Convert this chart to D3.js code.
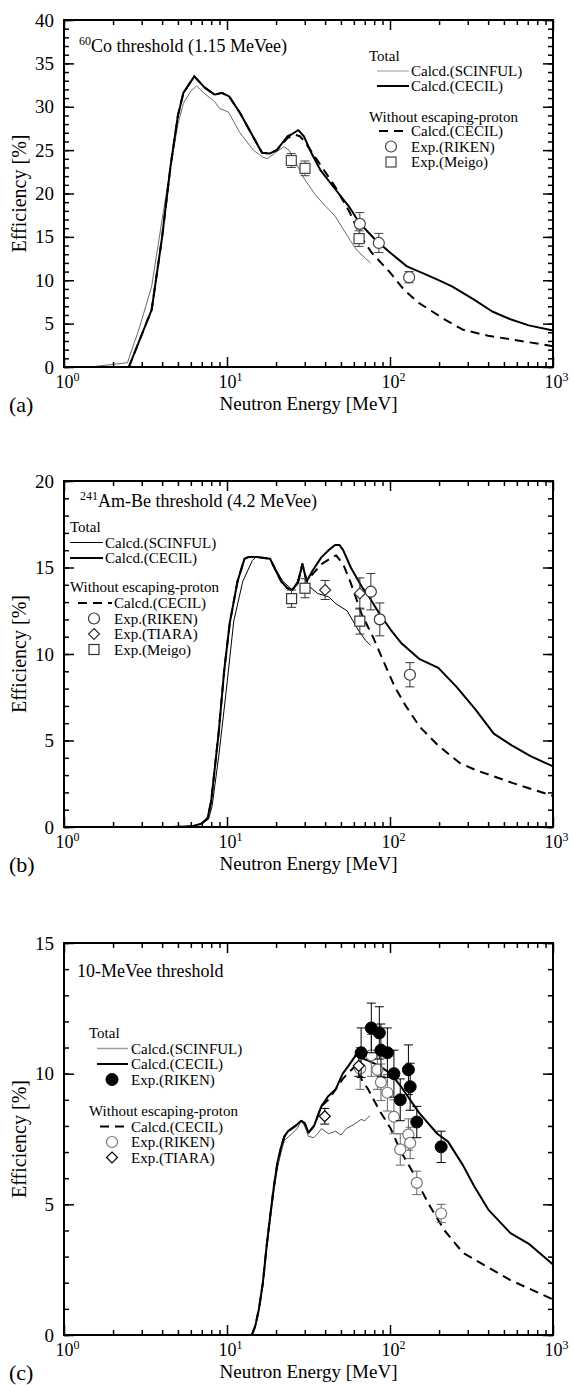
<!DOCTYPE html>
<html>
<head>
<meta charset="utf-8">
<script src="https://cdn.jsdelivr.net/npm/d3@7"></script>
<style>
  body { margin: 0; background: #fff; }
  svg { display: block; }
</style>
</head>
<body>
<div id="container"></div>
<script>
// ---- data: [energy MeV, efficiency %] ----
var scinfulA = [[1.5,0],[1.6,0.1],[2.0,0.3],[2.45,0.5],[2.9,4.5],[3.45,9.3],[4.0,17],[4.5,23],[5.0,28],[5.4,30.4],[6.0,31.8],[6.5,32.4],[7.3,31.5],[8.4,30.6],[9.0,29.8],[10.2,29.4],[12,27],[14.5,25],[16.5,24.2],[17.7,24.0],[19.5,24.6],[22.3,25.4],[24,25],[26,23.8],[30,21.6],[35,19.8],[40,18.6],[46,17.4],[52,15.8],[57,14.6],[63,13.4],[70,12.6],[76,12.0]];
var cecilA = [[2.5,0],[3.45,6.6],[4.0,15],[4.5,23.1],[5.0,29],[5.4,31.6],[6.3,33.5],[7.3,32.2],[8.4,31.4],[9.3,31.6],[10.3,31.2],[12,29.3],[14.8,26.2],[16.4,24.7],[18.2,24.6],[20.2,25],[23.5,26.6],[24.8,26.8],[27.4,27.3],[29.6,26.6],[32.9,24.7],[37.4,22.7],[48.4,20],[56,18.5],[65,16.6],[81,14.7],[100,13.2],[127,11.6],[160,10.8],[194,10.1],[240,9.3],[326,7.8],[424,6.4],[548,5.5],[710,4.8],[1000,4.2]];
var cecilNoEscA = [[2.5,0],[3.45,6.6],[4.0,15],[4.5,23.1],[5.0,29],[5.4,31.6],[6.3,33.5],[7.3,32.2],[8.4,31.4],[9.3,31.6],[10.3,31.2],[12,29.3],[14.8,26.2],[16.4,24.7],[18.2,24.6],[20.2,25],[23.5,26.4],[26,26.8],[28,26.6],[30.4,25.8],[35.6,23.9],[46,20.8],[56.7,17.8],[65.9,15.1],[77,13.2],[100,10.9],[122,8.9],[150,7.4],[216,5.5],[280,4.3],[400,3.6],[548,3.2],[1000,2.4]];
// [energy, value, error]
var rikenA = [[65.3,16.5,1.3],[85.4,14.3,1.1],[131,10.35,0.65]];
var meigoA = [[24.8,23.8,0.8],[30.1,22.9,0.85],[64.6,14.8,0.9]];

var scinfulB = [[4.6,0],[6.2,0.05],[7.0,0.2],[7.7,0.45],[8.1,1.2],[8.9,4.1],[9.9,7.9],[11,11.9],[12.5,14.2],[14.3,15.4],[15,15.6],[18.4,15.5],[19.9,14.9],[22,14.2],[23.9,13.9],[25.1,13.7],[27,14.2],[29.3,15.1],[30.5,14.3],[32,13.9],[36,13.5],[42,13.3],[46.7,12.9],[54.5,12.5],[63.7,11.4],[70.6,10.8],[76,10.5]];
var cecilB = [[4.6,0],[6.2,0.05],[7.0,0.2],[7.6,0.5],[8.0,1.5],[8.9,5.5],[9.6,9],[10.4,11.8],[11.6,14.2],[12.8,15.5],[13.5,15.6],[15.5,15.6],[18.4,15.5],[19.5,15.0],[21.5,14.2],[23.5,13.8],[25.1,13.7],[27.2,14.1],[29,15.2],[30.8,14.2],[33.4,14.8],[38,15.6],[42,16.0],[46,16.3],[49,16.3],[51.6,16.0],[57.5,15.0],[67,13.9],[74.5,13.3],[86.6,12.3],[101,11.4],[118,10.6],[152,9.7],[198,9.2],[256,8.1],[334,6.8],[433,5.4],[562,4.7],[728,4.1],[1000,3.5]];
var cecilNoEscB = [[4.6,0],[6.2,0.05],[7.0,0.2],[7.6,0.5],[8.0,1.5],[8.9,5.5],[9.6,9],[10.4,11.8],[11.6,14.2],[12.8,15.5],[13.5,15.6],[15.5,15.6],[18.4,15.5],[19.5,15.0],[21.5,14.2],[23.5,13.8],[25.1,13.7],[27.2,14.1],[29,15.2],[30.8,14.2],[33.4,14.6],[38,15.2],[44.5,15.6],[46.7,15.7],[51.6,15.2],[57.5,14.1],[67,12.3],[78.5,11],[91,9.6],[107,8.1],[125,7],[152,5.8],[198,4.7],[268,3.7],[334,3.3],[562,2.55],[1000,1.8]];
var rikenB = [[76.3,13.6,1.05],[86.6,12.0,0.95],[132.5,8.8,0.7]];
var tiaraB = [[40,13.7,0.55],[65.3,13.5,0.9]];
var meigoB = [[24.9,13.2,0.5],[30.1,13.8,0.55],[65.3,11.9,0.75]];

var scinfulC = [[14.2,0],[14.9,0.3],[15.7,0.95],[16.6,1.9],[17.5,3.3],[18.4,4.4],[19.4,5.5],[20.4,6.4],[21.5,7.0],[22.5,7.45],[25,7.7],[27,7.9],[28.5,8.2],[30,8.0],[31.6,7.6],[34,7.55],[36,7.7],[38,7.9],[42,7.7],[46.4,7.8],[50,7.65],[54,7.9],[60,8.05],[66.5,8.25],[70,8.2],[75.5,8.4]];
var cecilC = [[14.2,0],[14.9,0.34],[15.7,1.0],[16.6,2.0],[17.5,3.4],[18.4,4.55],[19.4,5.7],[20.4,6.6],[21.5,7.2],[22.5,7.6],[23.7,7.8],[26.3,8.0],[28.5,8.2],[30,8.1],[31.6,7.74],[34.2,8.0],[37.9,8.75],[41.8,9.14],[46.4,9.4],[51.3,10.0],[55.6,10.3],[61.6,10.7],[63.5,10.85],[66.5,10.6],[73.5,10.5],[86,10.3],[101,10.0],[117,9.5],[151,8.5],[195,7.7],[227,7.4],[280,6.5],[328,5.7],[401,4.8],[548,3.9],[707,3.5],[1000,2.7]];
var cecilNoEscC = [[14.2,0],[14.9,0.34],[15.7,1.0],[16.6,2.0],[17.5,3.4],[18.4,4.55],[19.4,5.7],[20.4,6.6],[21.5,7.2],[22.5,7.6],[23.7,7.8],[26.3,8.0],[28.5,8.2],[30,8.1],[31.6,7.74],[34.2,8.0],[37.9,8.75],[41.8,9.0],[46.4,9.4],[51.3,9.8],[57,10.1],[61.6,10.3],[66.5,9.8],[73.5,9.4],[86,8.6],[101,7.9],[117,7.0],[136,6.3],[151,5.7],[177,4.9],[216,4.0],[280,3.15],[328,2.9],[548,2.1],[1000,1.36]];
var rikenTotalC = [[66.5,10.8,0.95],[76.8,11.75,0.95],[86,11.56,1.0],[88,10.9,1.0],[96.4,10.8,0.95],[105.7,10.0,0.9],[115.6,9.0,0.8],[129.7,10.15,0.95],[133,9.5,0.9],[146,8.15,0.6],[206,7.2,0.6]];
var rikenNoEscC = [[65.6,10.2,0.8],[76.8,10.7,0.8],[83.7,10.15,0.75],[88,9.67,0.7],[96.4,9.27,0.7],[105.7,8.35,0.65],[115.6,7.1,0.6],[129.7,7.67,0.6],[133,7.35,0.6],[146,5.82,0.45],[206,4.65,0.35]];
var tiaraC = [[39.8,8.37,0.3],[64.3,10.3,0.4]];

var xMajor = [1, 10, 100, 1000];
var xMinor = [2,3,4,5,6,7,8,9,20,30,40,50,60,70,80,90,200,300,400,500,600,700,800,900];
var yLabelsA = [0,5,10,15,20,25,30,35,40];
var yLabelsB = [0,5,10,15,20];
var yLabelsC = [0,5,10,15];

var FONT = '"Liberation Serif","Times New Roman",serif';
var W = 573, H = 1385, LEFT = 64, RIGHT = 553;

var svg = d3.select('#container').append('svg')
  .attr('width', W).attr('height', H)
  .style('font-family', FONT);

function marker(g, kind, cx, cy, col) {
  if (kind == 'circle') {
    g.append('circle').attr('cx', cx).attr('cy', cy).attr('r', 5.5)
      .attr('fill', '#fff').attr('stroke', col).attr('stroke-width', 1.2);
  } else if (kind == 'dot') {
    g.append('circle').attr('cx', cx).attr('cy', cy).attr('r', 6)
      .attr('fill', '#000').attr('stroke', '#000');
  } else if (kind == 'square') {
    g.append('rect').attr('x', cx - 5).attr('y', cy - 5).attr('width', 10).attr('height', 10)
      .attr('fill', '#fff').attr('stroke', col).attr('stroke-width', 1.2);
  } else if (kind == 'diamond') {
    var s = 5.5;
    g.append('path').attr('d', 'M' + cx + ',' + (cy - s) + 'L' + (cx + s) + ',' + cy + 'L' + cx + ',' + (cy + s) + 'L' + (cx - s) + ',' + cy + 'Z')
      .attr('fill', '#fff').attr('stroke', col).attr('stroke-width', 1.2);
  }
}

function drawPanel(p) {
  var g = svg.append('g');
  var x = d3.scaleLog().domain([1, 1000]).range([LEFT, RIGHT]);
  var y = d3.scaleLinear().domain([0, p.ymax]).range([p.bottom, p.top]);
  var line = d3.line().x(function(d) { return x(d[0]); }).y(function(d) { return y(d[1]); });

  var plot = g.append('g');
  p.curves.forEach(function(c) {
    plot.append('path').datum(c.data).attr('d', line)
      .attr('fill', 'none').attr('stroke', c.color).attr('stroke-width', c.width)
      .attr('stroke-dasharray', c.dash || null).attr('stroke-linejoin', 'round');
  });

  p.exp.forEach(function(s) {
    s.data.forEach(function(d) {
      var cx = x(d[0]), y1 = y(d[1] + d[2]), y0 = y(d[1] - d[2]);
      var eg = plot.append('g').attr('stroke', s.bar).attr('stroke-width', 1);
      eg.append('line').attr('x1', cx).attr('x2', cx).attr('y1', y1).attr('y2', y0);
      eg.append('line').attr('x1', cx - 4.5).attr('x2', cx + 4.5).attr('y1', y1).attr('y2', y1);
      eg.append('line').attr('x1', cx - 4.5).attr('x2', cx + 4.5).attr('y1', y0).attr('y2', y0);
    });
    s.data.forEach(function(d) { marker(plot, s.kind, x(d[0]), y(d[1]), s.color); });
  });

  // ticks, all inward
  var yMinor = d3.range(0, p.ymax + 0.001, 1);
  function ax(axis, tr, vals, size) {
    var a = g.append('g').attr('transform', tr)
      .call(axis.tickValues(vals).tickSize(-size).tickSizeOuter(0).tickFormat(''));
    a.select('.domain').remove();
    a.selectAll('line').attr('stroke', '#000').attr('stroke-width', 1.5);
    return a;
  }
  ax(d3.axisBottom(x), 'translate(0,' + p.bottom + ')', xMinor, 5);
  ax(d3.axisTop(x), 'translate(0,' + p.top + ')', xMinor, 5);
  ax(d3.axisTop(x), 'translate(0,' + p.top + ')', xMajor, 10);
  ax(d3.axisLeft(y), 'translate(' + LEFT + ',0)', yMinor, 5);
  ax(d3.axisRight(y), 'translate(' + RIGHT + ',0)', yMinor, 5);
  ax(d3.axisRight(y), 'translate(' + RIGHT + ',0)', p.yLabels, 10);

  var bx = g.append('g').attr('transform', 'translate(0,' + p.bottom + ')')
    .call(d3.axisBottom(x).tickValues(xMajor).tickSize(-10).tickSizeOuter(0).tickPadding(8));
  bx.select('.domain').remove();
  bx.selectAll('line').attr('stroke', '#000').attr('stroke-width', 1.5);
  // "10" centred on the tick, exponent hanging to the right
  bx.selectAll('text').each(function(d) {
    var t = d3.select(this).text('').attr('font-size', 18).attr('font-family', FONT).attr('fill', '#000')
      .attr('text-anchor', 'start').attr('x', -9);
    t.append('tspan').text('10');
    t.append('tspan').attr('font-size', 12).attr('dy', '-0.55em').text(Math.round(Math.log10(d)));
  });

  var ly = g.append('g').attr('transform', 'translate(' + LEFT + ',0)')
    .call(d3.axisLeft(y).tickValues(p.yLabels).tickSize(-10).tickSizeOuter(0).tickPadding(10));
  ly.select('.domain').remove();
  ly.selectAll('line').attr('stroke', '#000').attr('stroke-width', 1.5);
  ly.selectAll('text').attr('font-size', 19).attr('font-family', FONT).attr('fill', '#000');

  g.append('rect').attr('x', LEFT).attr('y', p.top).attr('width', RIGHT - LEFT).attr('height', p.bottom - p.top)
    .attr('fill', 'none').attr('stroke', '#000').attr('stroke-width', 2);

  // axis titles and panel tag
  g.append('text').attr('x', (LEFT + RIGHT) / 2).attr('y', p.bottom + 43).attr('text-anchor', 'middle')
    .attr('font-size', 19).text('Neutron Energy [MeV]');
  g.append('text').attr('transform', 'translate(26,' + (p.top + p.bottom) / 2 + ') rotate(-90)')
    .attr('text-anchor', 'middle').attr('font-size', 20).text('Efficiency [%]');
  g.append('text').attr('x', 9).attr('y', p.bottom + 45).attr('font-size', 22).text(p.tag);

  // in-plot title
  var tt = g.append('text').attr('x', p.titleX).attr('y', p.titleY).attr('font-size', 18);
  if (p.sup) tt.append('tspan').attr('font-size', 12).attr('dy', '-0.55em').text(p.sup);
  tt.append('tspan').attr('dy', p.sup ? '0.37em' : null).text(p.title);

  // legend
  var lg = g.append('g').attr('font-size', 15);
  p.legend.forEach(function(it) {
    if (it.head) {
      lg.append('text').attr('x', it.x).attr('y', it.y).attr('dy', '0.35em').text(it.head);
      return;
    }
    if (it.line) {
      lg.append('line').attr('x1', it.x0).attr('x2', it.x1).attr('y1', it.y).attr('y2', it.y)
        .attr('stroke', it.line.color).attr('stroke-width', it.line.width)
        .attr('stroke-dasharray', it.line.dash || null);
    } else {
      marker(lg, it.kind, it.mx, it.y, it.color);
    }
    lg.append('text').attr('x', it.tx).attr('y', it.y).attr('dy', '0.35em').text(it.label);
  });
}

var thinLegA = { color: '#aaa', width: 1.2 };
var thick = { color: '#000', width: 2 };
var dashed = { color: '#000', width: 2, dash: '9,6' };

drawPanel({
  top: 20, bottom: 367, ymax: 40, yLabels: yLabelsA, tag: '(a)',
  sup: '60', title: 'Co threshold (1.15 MeVee)', titleX: 79, titleY: 52,
  curves: [
    { data: scinfulA, color: '#6a6a6a', width: 1 },
    { data: cecilA, color: '#000', width: 2 },
    { data: cecilNoEscA, color: '#000', width: 2, dash: '9,6' }
  ],
  exp: [
    { data: rikenA, kind: 'circle', color: '#444', bar: '#444' },
    { data: meigoA, kind: 'square', color: '#444', bar: '#444' }
  ],
  legend: [
    { head: 'Total', x: 369, y: 56 },
    { line: thinLegA, x0: 377, x1: 409, tx: 411, y: 71, label: 'Calcd.(SCINFUL)' },
    { line: thick, x0: 377, x1: 409, tx: 411, y: 86, label: 'Calcd.(CECIL)' },
    { head: 'Without escaping-proton', x: 369, y: 116.5 },
    { line: dashed, x0: 379, x1: 409, tx: 411, y: 131, label: 'Calcd.(CECIL)' },
    { kind: 'circle', color: '#444', mx: 391, tx: 411, y: 146.5, label: 'Exp.(RIKEN)' },
    { kind: 'square', color: '#444', mx: 391, tx: 411, y: 162, label: 'Exp.(Meigo)' }
  ]
});

drawPanel({
  top: 481, bottom: 827, ymax: 20, yLabels: yLabelsB, tag: '(b)',
  sup: '241', title: 'Am-Be threshold (4.2 MeVee)', titleX: 80, titleY: 507,
  curves: [
    { data: scinfulB, color: '#000', width: 1 },
    { data: cecilB, color: '#000', width: 2 },
    { data: cecilNoEscB, color: '#000', width: 2, dash: '9,6' }
  ],
  exp: [
    { data: rikenB, kind: 'circle', color: '#333', bar: '#333' },
    { data: tiaraB, kind: 'diamond', color: '#333', bar: '#333' },
    { data: meigoB, kind: 'square', color: '#333', bar: '#333' }
  ],
  legend: [
    { head: 'Total', x: 70, y: 527 },
    { line: { color: '#000', width: 1 }, x0: 70, x1: 103, tx: 105, y: 542.5, label: 'Calcd.(SCINFUL)' },
    { line: thick, x0: 70, x1: 103, tx: 105, y: 558, label: 'Calcd.(CECIL)' },
    { head: 'Without escaping-proton', x: 70, y: 587 },
    { line: dashed, x0: 78, x1: 112, tx: 114, y: 603, label: 'Calcd.(CECIL)' },
    { kind: 'circle', color: '#333', mx: 94, tx: 114, y: 618.5, label: 'Exp.(RIKEN)' },
    { kind: 'diamond', color: '#333', mx: 94, tx: 114, y: 634, label: 'Exp.(TIARA)' },
    { kind: 'square', color: '#333', mx: 94, tx: 114, y: 649.5, label: 'Exp.(Meigo)' }
  ]
});

drawPanel({
  top: 943, bottom: 1335, ymax: 15, yLabels: yLabelsC, tag: '(c)',
  sup: null, title: '10-MeVee threshold', titleX: 77, titleY: 977,
  curves: [
    { data: scinfulC, color: '#555', width: 1 },
    { data: cecilC, color: '#000', width: 2 },
    { data: cecilNoEscC, color: '#000', width: 2, dash: '9,6' }
  ],
  exp: [
    { data: rikenNoEscC, kind: 'circle', color: '#777', bar: '#666' },
    { data: rikenTotalC, kind: 'dot', color: '#000', bar: '#000' },
    { data: tiaraC, kind: 'diamond', color: '#000', bar: '#000' }
  ],
  legend: [
    { head: 'Total', x: 89, y: 1033 },
    { line: { color: '#999', width: 1.5 }, x0: 97, x1: 128, tx: 131, y: 1048.5, label: 'Calcd.(SCINFUL)' },
    { line: thick, x0: 97, x1: 128, tx: 131, y: 1064, label: 'Calcd.(CECIL)' },
    { kind: 'dot', color: '#000', mx: 112, tx: 131, y: 1079.5, label: 'Exp.(RIKEN)' },
    { head: 'Without escaping-proton', x: 89, y: 1111 },
    { line: dashed, x0: 100, x1: 128, tx: 131, y: 1126.5, label: 'Calcd.(CECIL)' },
    { kind: 'circle', color: '#777', mx: 112, tx: 131, y: 1142, label: 'Exp.(RIKEN)' },
    { kind: 'diamond', color: '#000', mx: 112, tx: 131, y: 1157.5, label: 'Exp.(TIARA)' }
  ]
});
</script>
</body>
</html>
